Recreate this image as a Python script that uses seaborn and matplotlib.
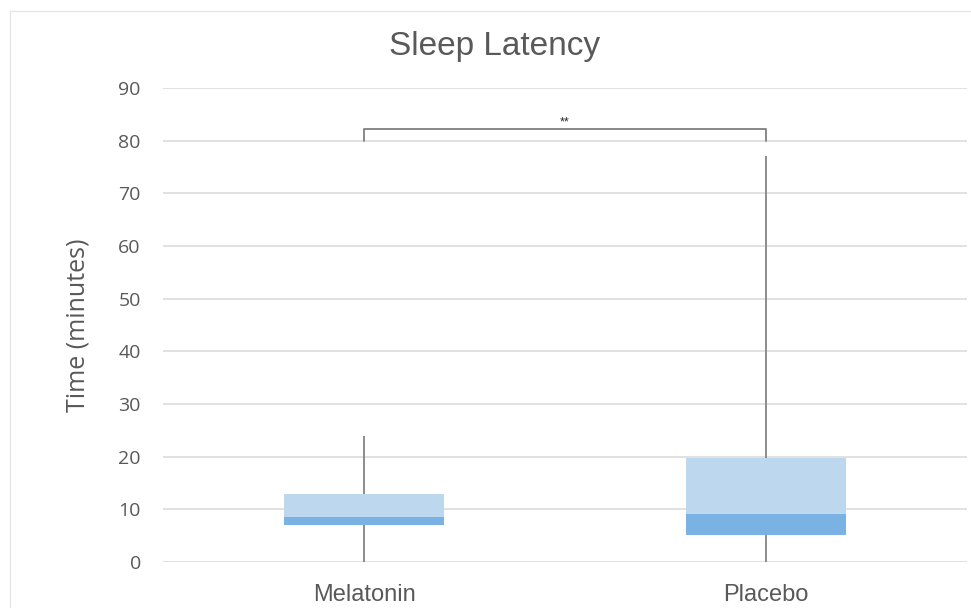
import numpy as np
import pandas as pd
import matplotlib
matplotlib.use("Agg")
import matplotlib.pyplot as plt
import seaborn as sns

# ---- data ----
groups = ["Melatonin", "Placebo"]
mins = [0, 0]
q1 = [7.0, 5.2]
medians = [8.6, 9.2]
q3 = [13.0, 19.7]
maxs = [24.0, 77.1]
sig_label = "**"
sig_y = 82.2

df = pd.DataFrame({"group": groups, "min": mins, "q1": q1, "median": medians,
                   "q3": q3, "max": maxs})
df["lower"] = df["median"] - df["q1"]
df["upper"] = df["q3"] - df["median"]

# ---- style ----
sns.set_theme(style="white")
plt.rcParams["font.family"] = ["Liberation Sans", "DejaVu Sans"]
text_col = "#595959"
light = "#BDD7EE"
dark = "#79B2E3"
grid_col = "#D9D9D9"

fig = plt.figure(figsize=(9.71, 6.08), dpi=100)
ax = fig.add_axes([163 / 971, 1 - 562 / 608, 804 / 971, (562 - 88) / 608])

# whiskers behind the boxes
ax.vlines(np.arange(len(groups)), df["min"], df["max"], color="#8C8C8C", lw=1.4, zorder=1)

# stacked boxes: q1 -> median (dark), median -> q3 (light)
sns.barplot(data=df, x="group", y="lower", bottom=df["q1"], color=dark,
            saturation=1, width=0.4, ax=ax, zorder=2, linewidth=0)
sns.barplot(data=df, x="group", y="upper", bottom=df["median"], color=light,
            saturation=1, width=0.4, ax=ax, zorder=2, linewidth=0)

# significance bracket
ax.plot([0, 0, 1, 1], [80, sig_y, sig_y, 80], color="#7F7F7F", lw=1.3, zorder=3,
        clip_on=False)
ax.text(0.5, sig_y + 0.2, sig_label, ha="center", va="bottom", fontsize=9,
        color="#262626")

ax.set_ylim(0, 90)
ax.set_xlim(-0.5, 1.5)
ax.set_yticks(range(0, 91, 10))
ax.yaxis.grid(True, color=grid_col, lw=1.1, zorder=0)
ax.set_axisbelow(True)
for s in ax.spines.values():
    s.set_visible(False)

ax.tick_params(axis="y", length=0, pad=16, labelsize=14, labelcolor=text_col)
ax.tick_params(axis="x", length=0, pad=16, labelsize=17, labelcolor=text_col)
for lab in ax.get_yticklabels():
    lab.set_family(["Open Sans", "DejaVu Sans"])
ax.set_xlabel("")
ax.set_ylabel("Time (minutes)", fontsize=18, color=text_col, labelpad=20,
              family=["Open Sans", "DejaVu Sans"])
fig.text(495 / 971, 1 - 47 / 608, "Sleep Latency", ha="center", va="center",
         fontsize=24, color=text_col)

# faint chart frame
fig.patches.append(plt.Rectangle((10 / 971, -0.1), 1.2, 1 - 11 / 608 + 0.1,
                                 transform=fig.transFigure, fill=False,
                                 edgecolor="#E6E6E6", lw=1))

fig.savefig("out.png", dpi=100, facecolor="white")
